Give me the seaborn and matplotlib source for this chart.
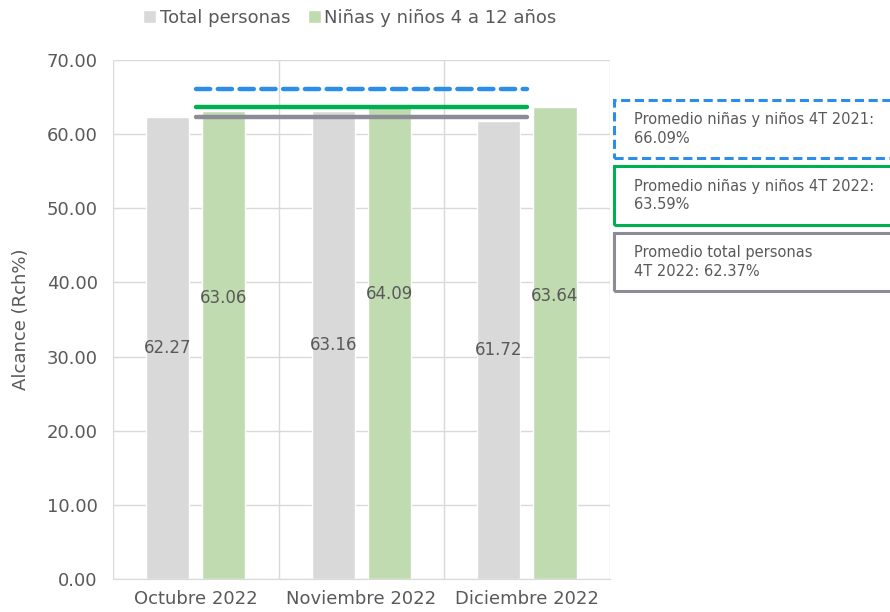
import matplotlib
matplotlib.use("Agg")
import matplotlib.pyplot as plt
import matplotlib.patches as mpatches
import seaborn as sns
import pandas as pd

# datos
meses = ["Octubre 2022", "Noviembre 2022", "Diciembre 2022"]
total_personas = [62.27, 63.16, 61.72]
ninos = [63.06, 64.09, 63.64]
series = ["Total personas", "Niñas y niños 4 a 12 años"]
prom_ninos_2021 = 66.09
prom_ninos_2022 = 63.59
prom_total_2022 = 62.37
cajas = ["Promedio niñas y niños 4T 2021:\n66.09%",
         "Promedio niñas y niños 4T 2022:\n63.59%",
         "Promedio total personas\n4T 2022: 62.37%"]

df = pd.DataFrame({
    "mes": meses * 2,
    "serie": [series[0]] * 3 + [series[1]] * 3,
    "valor": total_personas + ninos,
})

sns.set_style("white")
plt.rcParams["font.family"] = ["DejaVu Sans"]
txt = "#595959"
fs = 13

fig = plt.figure(figsize=(8.9, 6.12), dpi=100)
ax = fig.add_axes([0.127, 0.054, 0.558, 0.848])

sns.barplot(data=df, x="mes", y="valor", hue="serie", order=meses,
            palette=["#D9D9D9", "#C0DBB0"], saturation=1, width=0.68,
            gap=0.235, ax=ax, legend=True)

# etiquetas de valor
for i, v in enumerate(total_personas):
    ax.text(i - 0.17, v * 0.5, f"{v:.2f}", ha="center", va="center",
            fontsize=12, color=txt)
for i, v in enumerate(ninos):
    ax.text(i + 0.17, v * 0.6, f"{v:.2f}", ha="center", va="center",
            fontsize=12, color=txt)

# líneas de promedio
ax.hlines(prom_ninos_2021, 0, 2, colors="#2B8FEA", linewidth=3.2,
          linestyles=(0, (3.2, 1.7)), capstyle="round")
ax.hlines(prom_ninos_2022, 0, 2, colors="#00B050", linewidth=3.2,
          capstyle="round")
ax.hlines(prom_total_2022, 0, 2, colors="#8C8C96", linewidth=3.2,
          capstyle="round")

ax.set_ylim(0, 70)
ax.set_xlim(-0.5, 2.5)
ax.set_yticks(range(0, 71, 10))
ax.set_yticklabels([f"{t:.2f}" for t in range(0, 71, 10)])
ax.set_xticks([-0.5, 0.5, 1.5, 2.5], minor=True)
ax.grid(axis="y", color="#D9D9D9", linewidth=1)
ax.grid(axis="x", which="minor", color="#D9D9D9", linewidth=1)
ax.set_axisbelow(True)
ax.tick_params(axis="y", which="both", length=0, labelsize=fs,
               colors=txt, pad=11)
ax.tick_params(axis="x", which="both", length=0, labelsize=fs,
               colors=txt, pad=8)
ax.set_xlabel("")
ax.set_ylabel("Alcance (Rch%)", fontsize=fs, color=txt, labelpad=12)
for s in ["top", "right", "left"]:
    ax.spines[s].set_visible(False)
ax.spines["bottom"].set_color("#D9D9D9")

leg = ax.legend(loc="center", bbox_to_anchor=(0.477, 1.081), ncol=2,
                frameon=False, fontsize=fs, handlelength=0.7,
                handleheight=0.7, handletextpad=0.2, columnspacing=1.0)
for t in leg.get_texts():
    t.set_color(txt)

# cajas de texto a la derecha
bordes = [("#2B8FEA", (0, (3, 1.5))), ("#00B050", "-"), ("#8C8C96", "-")]
ys = [(0.742, 0.837), (0.632, 0.729), (0.525, 0.619)]
for texto, (col, ls), (y0, y1) in zip(cajas, bordes, ys):
    rect = mpatches.Rectangle((0.690, y0), 0.4, y1 - y0, transform=fig.transFigure,
                              fill=False, edgecolor=col, linewidth=2.2,
                              linestyle=ls, clip_on=False)
    fig.add_artist(rect)
    fig.text(0.712, (y0 + y1) / 2, texto, ha="left", va="center",
             fontsize=10.5, color=txt, linespacing=1.3)

fig.savefig("out.png", dpi=100)
